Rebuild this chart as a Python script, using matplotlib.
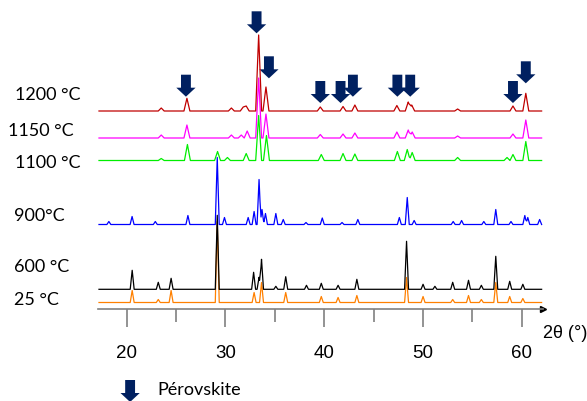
import matplotlib
matplotlib.use("Agg")
import matplotlib.pyplot as plt
import numpy as np

# diffractogrammes (pics: position 2theta, hauteur)
labels = ["25 °C", "600 °C", "900°C", "1100 °C", "1150 °C", "1200 °C"]
colors = ["#ff8000", "#000000", "#0000ff", "#00ee00", "#ff00ff", "#c00000"]
offsets = [6.5, 19.7, 84.5, 148.5, 171.0, 198.0]
largeurs = [0.2, 0.2, 0.2, 0.3, 0.3, 0.3]

pos_25 = [20.56, 23.2, 24.5, 29.17, 32.9, 33.65, 36.1, 39.7, 41.4, 43.3, 48.33, 50.0, 53.0, 54.6, 55.9, 57.36, 58.77, 60.1]
h_25 = [12, 3, 12, 81, 10, 20, 10, 6, 5, 7, 25, 6, 3, 7, 3, 20, 6, 4]

pos_600 = [20.56, 23.2, 24.5, 29.17, 32.85, 33.4, 33.65, 35.1, 36.1, 38.2, 39.7, 41.4, 43.3, 48.33, 50.0, 51.2, 53.0, 54.6, 55.9, 57.36, 58.77, 60.1]
h_600 = [19, 7, 11, 74, 17, 12, 30, 3, 12.6, 4, 6, 4, 10, 48, 5, 3, 7, 9, 4, 33, 8, 5]

pos_900 = [18.2, 20.55, 22.9, 26.2, 29.17, 29.9, 32.3, 32.9, 33.4, 33.7, 34.05, 35.1, 35.85, 38.15, 39.8, 41.8, 43.4, 47.6, 48.4, 49.1, 53.05, 53.9, 56.15, 57.36, 58.9, 60.3, 60.6, 61.8]
h_900 = [3, 8, 3, 9, 67, 7, 7, 13, 45, 15, 11, 11, 5, 2, 6.5, 2, 5, 7, 27, 4, 3, 4, 3, 15, 3, 9, 7, 5]

pos_1100 = [23.5, 26.15, 29.2, 30.2, 32.1, 33.36, 34.15, 39.7, 41.9, 43.1, 47.4, 48.4, 48.9, 53.5, 58.5, 59.1, 60.4]
h_1100 = [2, 16, 9, 3, 7, 45, 25, 6, 7, 6.5, 9, 11, 8, 3, 3, 6, 19]

pos_1150 = [23.5, 26.1, 30.6, 31.6, 32.2, 33.36, 34.1, 39.6, 41.9, 43.1, 47.35, 48.5, 48.9, 53.5, 59.1, 60.4]
h_1150 = [3, 13, 3, 3, 7, 60, 24, 3.5, 4, 5, 6, 8, 6, 2, 4, 18]

pos_1200 = [23.5, 26.1, 30.6, 31.8, 32.1, 33.36, 34.1, 39.6, 41.9, 43.1, 47.35, 48.5, 48.85, 53.5, 59.1, 60.4]
h_1200 = [3, 12.7, 3, 4, 5, 76, 24, 4, 4.5, 6, 5.5, 9, 6, 2, 5, 17.7]

positions = [pos_25, pos_600, pos_900, pos_1100, pos_1150, pos_1200]
heights = [h_25, h_600, h_900, h_1100, h_1150, h_1200]

# fleches perovskite
arrow_pos = [26.0, 33.15, 34.4, 39.6, 41.65, 42.9, 47.4, 48.7, 59.1, 60.4]
arrow_tip = [212.3, 275.7, 230.7, 206.0, 206.0, 212.3, 212.3, 212.3, 206.0, 225.7]


def courbe(pos, h, w=0.22):
    x = [17.2, 62.0]
    for p in pos:
        x += [p - w, p, p + w]
    x = np.unique(x)
    y = np.zeros(len(x))
    for p, hh in zip(pos, h):
        y = np.maximum(y, np.interp(x, [p - w, p, p + w], [0, hh, 0], left=0, right=0))
    return x, y


fig = plt.figure(figsize=(5.87, 4.01), dpi=100)
ax = fig.add_axes([98 / 587, 92 / 401, 445 / 587, 309 / 401])

for i in range(len(labels)):
    x, y = courbe(positions[i], heights[i], largeurs[i])
    ax.plot(x, y + offsets[i], color=colors[i], lw=0.9)

for p, t in zip(arrow_pos, arrow_tip):
    ax.arrow(p, t + 22, 0, -22, width=1.0, head_width=1.95, head_length=9,
             length_includes_head=True, fc="#002060", ec="none", clip_on=False)

ax.set_xlim(17.1, 62.14)
ax.set_ylim(0, 309)
for s in ["left", "top", "right"]:
    ax.spines[s].set_visible(False)
ax.spines["bottom"].set_color("#808080")
ax.spines["bottom"].set_linewidth(1.2)
ax.plot(1, 0, ">k", transform=ax.transAxes, clip_on=False, markersize=4)
ax.set_yticks([])
ax.set_xticks([20, 30, 40, 50, 60])
ax.set_xticks([25, 35, 45, 55], minor=True)
ax.tick_params(axis="x", which="major", length=13, width=1.2, color="#808080", pad=13,
               labelsize=13.5, labelfontfamily="Liberation Sans")
ax.tick_params(axis="x", which="minor", length=9, width=1.2, color="#808080")

# etiquettes a gauche
lab_xy = [(14, 300), (14, 267), (14, 216), (15, 163), (8, 131), (15, 95)]
for (lx, ly), t in zip(lab_xy, labels):
    fig.text(lx / 587, 1 - ly / 401, t, fontsize=13, family="Lato", va="center", ha="left")

fig.text(543 / 587, 1 - 333 / 401, "2θ (°)", fontsize=13, family="Liberation Sans", va="center", ha="left")

# legende
ax.arrow(20.35, -71, 0, -22, width=1.0, head_width=1.95, head_length=9,
         length_includes_head=True, fc="#002060", ec="none", clip_on=False)
fig.text(157 / 587, 1 - 390 / 401, "Pérovskite", fontsize=13, family="Lato", va="center", ha="left")

fig.savefig("out.png", dpi=100)
